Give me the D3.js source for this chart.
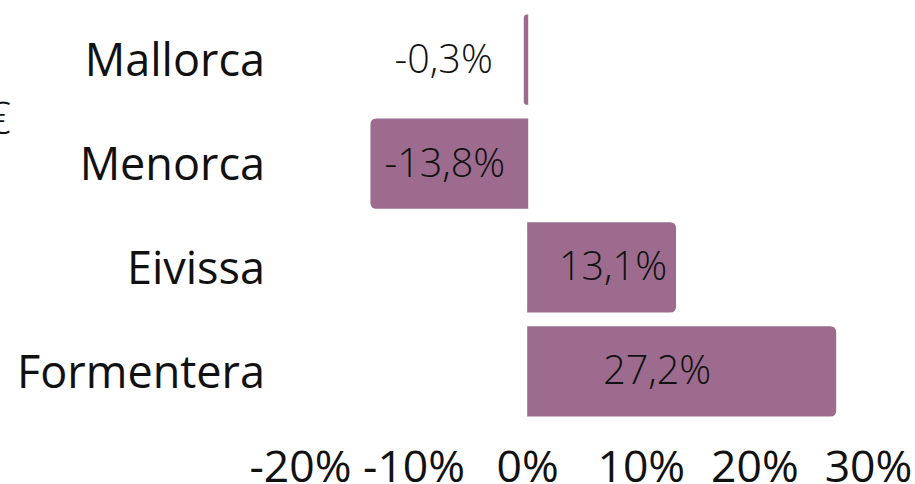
<!DOCTYPE html>
<html>
<head>
<meta charset="utf-8">
<script src="https://cdn.jsdelivr.net/npm/d3@7"></script>
<style>
  html, body { margin: 0; padding: 0; background: #fff; }
  svg { display: block; font-family: "Open Sans", sans-serif; }
</style>
</head>
<body>
<svg id="chart" width="915" height="484"></svg>
<script>
// Year-on-year change by island
const islands = ["Mallorca", "Menorca", "Eivissa", "Formentera"];
const changes = [-0.3, -13.8, 13.1, 27.2];
const valueLabels = ["-0,3%", "-13,8%", "13,1%", "27,2%"];
const tickValues = [-20, -10, 0, 10, 20, 30];
const tickLabels = ["-20%", "-10%", "0%", "10%", "20%", "30%"];

const W = 915, H = 484;
const barColor = "#9c6b8e";
const ink = "#111";

const svg = d3.select("#chart");

const x = d3.scaleLinear().domain([-20, 30]).range([300, 868]);
const y = d3.scaleBand().domain(islands).range([7.75, 423.25])
  .paddingInner(0.13).paddingOuter(0.065);

const data = islands.map((name, i) => ({ name, value: changes[i], label: valueLabels[i] }));

// bar path with rounded corners only on the outer end
function barPath(d) {
  const x0 = x(0), x1 = x(d.value);
  const top = y(d.name), h = y.bandwidth();
  const w = Math.abs(x1 - x0);
  const r = Math.min(6, w, h / 2);
  if (d.value >= 0) {
    return `M${x0},${top}H${x1 - r}Q${x1},${top} ${x1},${top + r}` +
           `V${top + h - r}Q${x1},${top + h} ${x1 - r},${top + h}H${x0}Z`;
  }
  const right = x0 + 1;
  return `M${right},${top}H${x1 + r}Q${x1},${top} ${x1},${top + r}` +
         `V${top + h - r}Q${x1},${top + h} ${x1 + r},${top + h}H${right}Z`;
}

svg.append("g").selectAll("path")
  .data(data).join("path")
  .attr("d", barPath)
  .attr("fill", barColor);

// value labels
function labelPos(d) {
  const span = Math.abs(x(d.value) - x(0));
  if (d.value < 0) {
    if (span < 40) return { x: x(d.value) - 31, anchor: "end" };
    return { x: x(d.value) + 14, anchor: "start" };
  }
  return { x: Math.min(x(d.value) - 9, x(0) + 184), anchor: "end" };
}

svg.append("g").selectAll("text")
  .data(data).join("text")
  .each(function (d) {
    const p = labelPos(d);
    d3.select(this)
      .attr("x", p.x)
      .attr("text-anchor", p.anchor);
  })
  .attr("y", d => y(d.name) + y.bandwidth() / 2)
  .attr("dy", "0.33em")
  .attr("font-size", 39.5)
  .attr("font-weight", 300)
  .attr("fill", ink)
  .text(d => d.label);

// category axis labels
const yAxis = d3.axisLeft(y).tickSize(0).tickPadding(0);
const gy = svg.append("g").attr("transform", "translate(265,0)").call(yAxis);
gy.select(".domain").remove();
gy.selectAll("text")
  .attr("font-size", 45)
  .attr("font-family", "'Open Sans', sans-serif")
  .attr("fill", ink)
  .attr("dy", "0.36em");

// value axis labels
const xAxis = d3.axisBottom(x).tickValues(tickValues).tickSize(0).tickPadding(0)
  .tickFormat((v, i) => tickLabels[i]);
const gx = svg.append("g").attr("transform", "translate(0,482)").call(xAxis);
gx.select(".domain").remove();
gx.selectAll("text")
  .attr("font-size", 44.5)
  .attr("font-family", "'Open Sans', sans-serif")
  .attr("fill", ink)
  .attr("y", 0)
  .attr("dy", 0);

// currency mark at the left edge
svg.append("text")
  .attr("x", 11)
  .attr("y", 118)
  .attr("dy", "0.35em")
  .attr("text-anchor", "end")
  .attr("font-size", 45)
  .attr("font-weight", 300)
  .attr("fill", ink)
  .text("€");
</script>
</body>
</html>
